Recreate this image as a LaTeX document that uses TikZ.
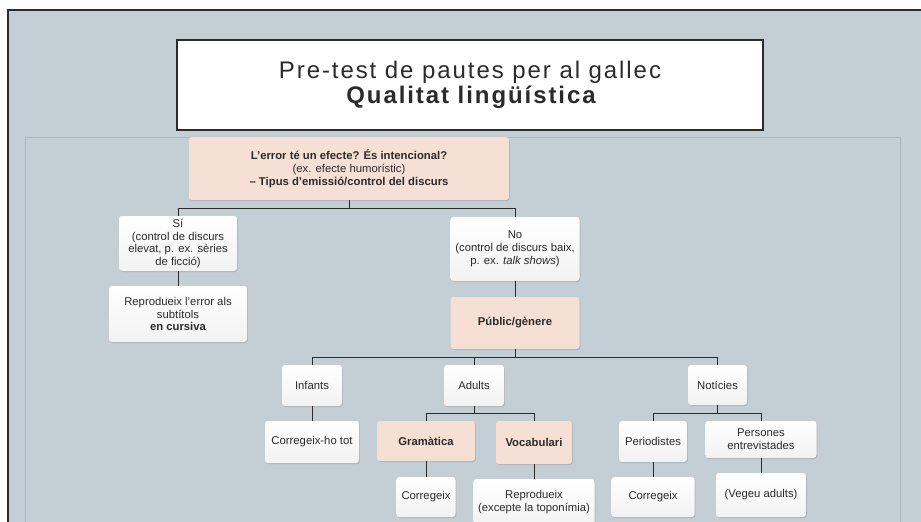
\documentclass[tikz,border=0pt]{standalone}
\usepackage{fontspec}
\setmainfont{Liberation Sans}
\newfontfamily\titlefont[LetterSpace=8]{Liberation Sans}
\usepackage{tikz}
\usetikzlibrary{positioning}
\usetikzlibrary{calc}
\usetikzlibrary{shadows}
\definecolor{bgcol}{HTML}{C3CED5}
\definecolor{panelline}{HTML}{A7B7C1}
\definecolor{pinkcol}{HTML}{F6E0D5}
\definecolor{inkcol}{HTML}{2B2B2B}
\tikzset{
  box/.style={rounded corners=3pt, align=center, inner sep=1pt, text=inkcol,
    font=\fontsize{11.3}{12.8}\selectfont,
    drop shadow={shadow xshift=0.8pt, shadow yshift=-1pt, opacity=.35}},
  whitebox/.style={box, top color=white, bottom color=black!5},
  pinkbox/.style={box, fill=pinkcol},
  conn/.style={draw=inkcol, line width=0.8pt}
}
\begin{document}
\begin{tikzpicture}[x=1pt,y=-1pt]
\useasboundingbox (0,0) rectangle (921,522);
\fill[white] (0,0) rectangle (921,522);
\fill[bgcol] (8,10) rectangle (921,522);
\draw[inkcol, line width=1.5pt] (8,522) -- (8,10) -- (921,10);% outer frame
\draw[panelline, line width=0.8pt] (25,524) -- (25,137) -- (900,137) -- (900,524);% inner panel

% title
\node[draw=inkcol, line width=1.8pt, fill=white, minimum width=586pt, minimum height=90pt, align=center, text=inkcol]
  (title) at (470,85) {{\titlefont\fontsize{24}{26}\selectfont Pre-test de pautes per al gallec}\\[1pt]
  {\titlefont\bfseries\fontsize{24}{26}\selectfont Qualitat lingüística\kern-2pt}};

% first level
\node[pinkbox, minimum width=320pt, minimum height=63pt] (question) at (349,168.5)
  {\textbf{L’error té un efecte? És intencional?}\\(ex. efecte humorístic)\\\textbf{– Tipus d’emissió/control del discurs}};
\node[whitebox, minimum width=118pt, minimum height=55pt] (si) at (178,243.5)
  {Sí\\(control de discurs\\elevat, p. ex. sèries\\de ficció)};
\node[whitebox, minimum width=138pt, minimum height=56pt] (italic) at (178,314)
  {Reprodueix l’error als\\subtítols\\\textbf{en cursiva}};
\node[whitebox, minimum width=129pt, minimum height=64pt] (no) at (515,249)
  {No\\(control de discurs baix,\\p. ex. \textit{talk shows})};
\node[pinkbox, minimum width=129pt, minimum height=52pt] (public) at (515,323) {\textbf{Públic/gènere}};

% audiences
\node[whitebox, minimum width=60pt, minimum height=41pt] (infants) at (312,385.5) {Infants};
\node[whitebox, minimum width=60pt, minimum height=41pt] (adults) at (474,385.5) {Adults};
\node[whitebox, minimum width=59pt, minimum height=40pt] (news) at (717.5,385) {Notícies};

\node[whitebox, minimum width=94pt, minimum height=42pt] (fixall) at (312,442) {Corregeix-ho tot};
\node[pinkbox, minimum width=98pt, minimum height=40pt] (grammar) at (426,441) {\textbf{Gramàtica}};
\node[pinkbox, minimum width=76pt, minimum height=43pt] (vocab) at (534,442.5) {\textbf{Vocabulari}};
\node[whitebox, minimum width=59pt, minimum height=40pt] (fixgram) at (426,497) {Corregeix};
\node[whitebox, minimum width=121pt, minimum height=46pt] (keepvocab) at (534,502)
  {Reprodueix\\(excepte la toponímia)};

\node[whitebox, minimum width=68pt, minimum height=41pt] (journo) at (653,441.5) {Periodistes};
\node[whitebox, minimum width=111pt, minimum height=37pt] (people) at (761,439.5) {Persones\\entrevistades};
\node[whitebox, minimum width=83pt, minimum height=40pt] (fixjourno) at (653,497) {Corregeix};
\node[whitebox, minimum width=90pt, minimum height=44pt] (seeadults) at (761,495) {(Vegeu adults)};

% connectors
\coordinate (busq) at (349,208);
\coordinate (busp) at (515,357);
\coordinate (busa) at (474,413);
\coordinate (busn) at (717.5,413);
\draw[conn] (question.south) -- (busq) -| (si.north);
\draw[conn] (busq) -| (no.north);
\draw[conn] (si.south) -- (italic.north);
\draw[conn] (no.south) -- (public.north);
\draw[conn] (public.south) -- (busp) -| (infants.north);
\draw[conn] (busp) -| (adults.north);
\draw[conn] (busp) -| (news.north);
\draw[conn] (infants.south) -- (fixall.north);
\draw[conn] (adults.south) -- (busa) -| (grammar.north);
\draw[conn] (busa) -| (vocab.north);
\draw[conn] (grammar.south) -- (fixgram.north);
\draw[conn] (vocab.south) -- (keepvocab.north);
\draw[conn] (news.south) -- (busn) -| (journo.north);
\draw[conn] (busn) -| (people.north);
\draw[conn] (journo.south) -- (fixjourno.north);
\draw[conn] (people.south) -- (seeadults.north);
\end{tikzpicture}
\end{document}
